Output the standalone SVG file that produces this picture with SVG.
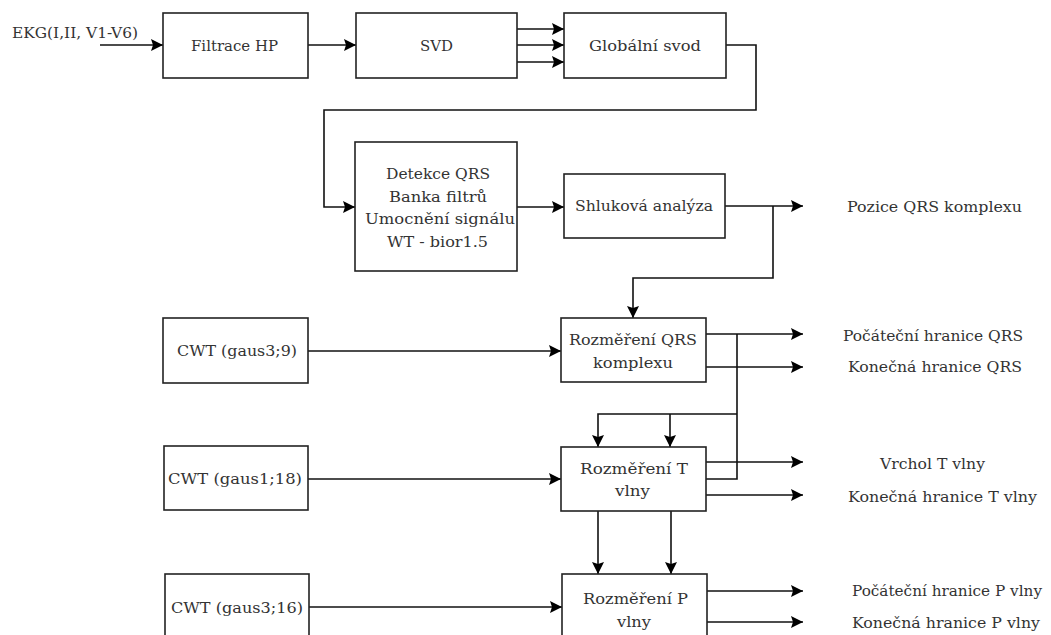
<svg xmlns="http://www.w3.org/2000/svg" width="1051" height="635" viewBox="0 0 1051 635">
<defs>
<marker id="ah" markerUnits="userSpaceOnUse" markerWidth="12" markerHeight="12" refX="12" refY="6" orient="auto">
<path d="M0,0 L12,6 L0,12 L2,6 z" fill="#000"/>
</marker>
<style>
.box{fill:#fff;stroke:#222;stroke-width:1.6}
.t{font-family:"DejaVu Serif","Liberation Serif",serif;font-size:15px;fill:#333}
.c{fill:none;stroke:#111;stroke-width:1.6}
.a{fill:none;stroke:#111;stroke-width:1.6;marker-end:url(#ah)}
</style>
</defs>
<rect width="1051" height="635" fill="#fff"/>
<g id="connectors">
<path class="a" d="M100,45 H163"/>
<path class="a" d="M308,45 H356"/>
<path class="a" d="M517,29 H564"/>
<path class="a" d="M517,45 H564"/>
<path class="a" d="M517,62 H564"/>
<path class="a" d="M726,45 H756 V110 H324 V207 H355"/>
<path class="a" d="M517,207 H564"/>
<path class="a" d="M725,206 H803"/>
<path class="a" d="M773,206 V278 H633 V318"/>
<path class="a" d="M308,351 H561"/>
<path class="a" d="M706,334 H803"/>
<path class="a" d="M706,367 H803"/>
<path class="c" d="M737,334 V479 H706"/>
<path class="a" d="M737,414 H598 V447"/>
<path class="a" d="M670,414 V447"/>
<path class="a" d="M308,479 H561"/>
<path class="a" d="M706,462 H803"/>
<path class="a" d="M706,495 H803"/>
<path class="a" d="M598,511 V574"/>
<path class="a" d="M671,511 V574"/>
<path class="a" d="M309,607 H562"/>
<path class="a" d="M707,591 H803"/>
<path class="a" d="M707,622 H803"/>
</g>
<g id="input-label"><text class="t" x="12" y="38" textLength="126" lengthAdjust="spacingAndGlyphs">EKG(I,II, V1-V6)</text></g>
<g id="filtrace"><rect class="box" x="163" y="13" width="145" height="65"/><text class="t" x="191" y="51" textLength="87" lengthAdjust="spacingAndGlyphs">Filtrace HP</text></g>
<g id="svd"><rect class="box" x="356" y="13" width="161" height="65"/><text class="t" x="420" y="51" textLength="33" lengthAdjust="spacingAndGlyphs">SVD</text></g>
<g id="globalni"><rect class="box" x="564" y="13" width="162" height="65"/><text class="t" x="589" y="51" textLength="112" lengthAdjust="spacingAndGlyphs">Globální svod</text></g>
<g id="detekce"><rect class="box" x="355" y="142" width="162" height="129"/>
<text class="t" x="386" y="179" textLength="104" lengthAdjust="spacingAndGlyphs">Detekce QRS</text>
<text class="t" x="389" y="202" textLength="98" lengthAdjust="spacingAndGlyphs">Banka filtrů</text>
<text class="t" x="365" y="224" textLength="150" lengthAdjust="spacingAndGlyphs">Umocnění signálu</text>
<text class="t" x="387" y="247" textLength="101" lengthAdjust="spacingAndGlyphs">WT - bior1.5</text></g>
<g id="shlukova"><rect class="box" x="564" y="174" width="161" height="64"/><text class="t" x="575" y="211" textLength="138" lengthAdjust="spacingAndGlyphs">Shluková analýza</text></g>
<g id="pozice"><text class="t" x="847" y="212" textLength="175" lengthAdjust="spacingAndGlyphs">Pozice QRS komplexu</text></g>
<g id="cwt1"><rect class="box" x="163" y="318" width="145" height="65"/><text class="t" x="177" y="356" textLength="120" lengthAdjust="spacingAndGlyphs">CWT (gaus3;9)</text></g>
<g id="qrs"><rect class="box" x="561" y="318" width="145" height="64"/>
<text class="t" x="569" y="345" textLength="128" lengthAdjust="spacingAndGlyphs">Rozměření QRS</text>
<text class="t" x="593" y="368" textLength="80" lengthAdjust="spacingAndGlyphs">komplexu</text></g>
<g id="qrs-out"><text class="t" x="843" y="341" textLength="180" lengthAdjust="spacingAndGlyphs">Počáteční hranice QRS</text>
<text class="t" x="848" y="372" textLength="174" lengthAdjust="spacingAndGlyphs">Konečná hranice QRS</text></g>
<g id="cwt2"><rect class="box" x="164" y="446" width="144" height="64"/><text class="t" x="168" y="484" textLength="134" lengthAdjust="spacingAndGlyphs">CWT (gaus1;18)</text></g>
<g id="tvlna"><rect class="box" x="561" y="447" width="145" height="64"/>
<text class="t" x="580" y="474" textLength="108" lengthAdjust="spacingAndGlyphs">Rozměření T</text>
<text class="t" x="615" y="496" textLength="35" lengthAdjust="spacingAndGlyphs">vlny</text></g>
<g id="t-out"><text class="t" x="880" y="469" textLength="105" lengthAdjust="spacingAndGlyphs">Vrchol T vlny</text>
<text class="t" x="848" y="502" textLength="189" lengthAdjust="spacingAndGlyphs">Konečná hranice T vlny</text></g>
<g id="cwt3"><rect class="box" x="165" y="574" width="144" height="70"/><text class="t" x="171" y="613" textLength="132" lengthAdjust="spacingAndGlyphs">CWT (gaus3;16)</text></g>
<g id="pvlna"><rect class="box" x="562" y="574" width="145" height="70"/>
<text class="t" x="583" y="604" textLength="105" lengthAdjust="spacingAndGlyphs">Rozměření P</text>
<text class="t" x="617" y="627" textLength="34" lengthAdjust="spacingAndGlyphs">vlny</text></g>
<g id="p-out"><text class="t" x="852" y="596" textLength="190" lengthAdjust="spacingAndGlyphs">Počáteční hranice P vlny</text>
<text class="t" x="852" y="628" textLength="188" lengthAdjust="spacingAndGlyphs">Konečná hranice P vlny</text></g>
</svg>
